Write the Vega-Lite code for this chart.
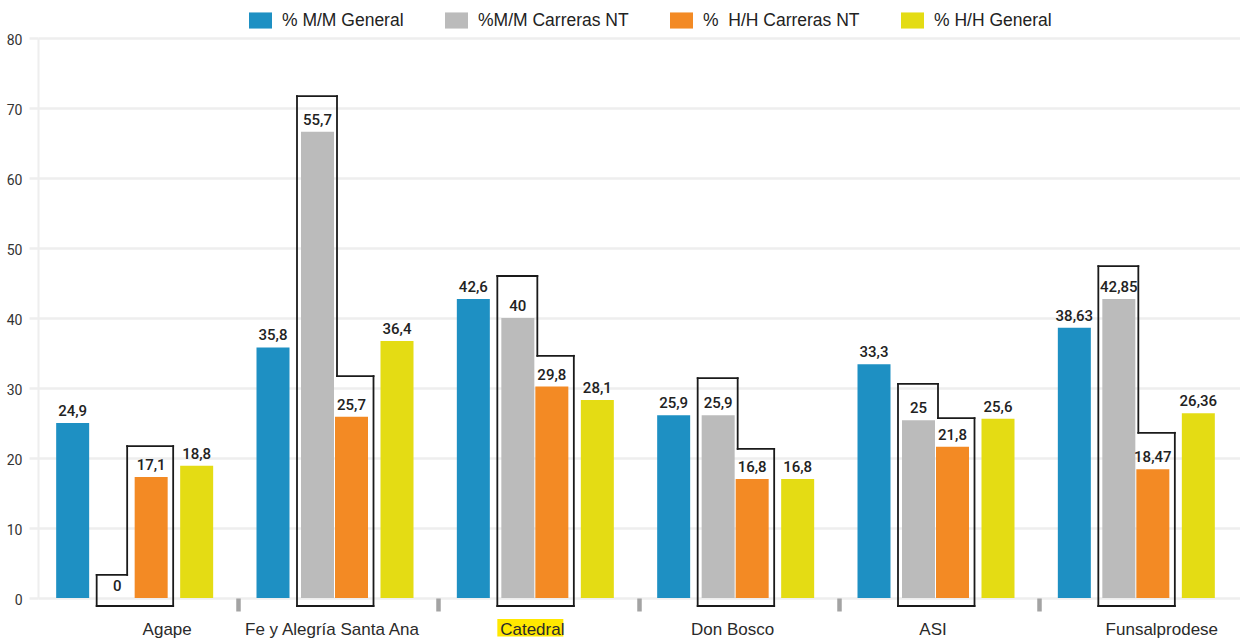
{
  "$schema": "https://vega.github.io/schema/vega-lite/v6.json",
  "width": 1202,
  "height": 560,
  "autosize": {"type": "none"},
  "padding": {"left": 38, "top": 38, "right": 0, "bottom": 44},
  "background": "white",
  "config": {"view": {"stroke": null}, "font": "Liberation Sans"},
  "datasets": {
    "bars": [
      {"school": "Agape", "serie": "% M/M General", "value": 25.0, "label": "24,9"},
      {"school": "Agape", "serie": "%M/M Carreras NT", "value": 0, "label": "0"},
      {"school": "Agape", "serie": "%\u00a0 H/H Carreras NT", "value": 17.3, "label": "17,1"},
      {"school": "Agape", "serie": "% H/H General", "value": 18.9, "label": "18,8"},
      {"school": "Fe y Alegría Santa Ana", "serie": "% M/M General", "value": 35.8, "label": "35,8"},
      {"school": "Fe y Alegría Santa Ana", "serie": "%M/M Carreras NT", "value": 66.6, "label": "55,7"},
      {"school": "Fe y Alegría Santa Ana", "serie": "%\u00a0 H/H Carreras NT", "value": 25.9, "label": "25,7"},
      {"school": "Fe y Alegría Santa Ana", "serie": "% H/H General", "value": 36.7, "label": "36,4"},
      {"school": "Catedral", "serie": "% M/M General", "value": 42.7, "label": "42,6"},
      {"school": "Catedral", "serie": "%M/M Carreras NT", "value": 40.0, "label": "40"},
      {"school": "Catedral", "serie": "%\u00a0 H/H Carreras NT", "value": 30.2, "label": "29,8"},
      {"school": "Catedral", "serie": "% H/H General", "value": 28.3, "label": "28,1"},
      {"school": "Don Bosco", "serie": "% M/M General", "value": 26.1, "label": "25,9"},
      {"school": "Don Bosco", "serie": "%M/M Carreras NT", "value": 26.1, "label": "25,9"},
      {"school": "Don Bosco", "serie": "%\u00a0 H/H Carreras NT", "value": 17.0, "label": "16,8"},
      {"school": "Don Bosco", "serie": "% H/H General", "value": 17.0, "label": "16,8"},
      {"school": "ASI", "serie": "% M/M General", "value": 33.4, "label": "33,3"},
      {"school": "ASI", "serie": "%M/M Carreras NT", "value": 25.4, "label": "25"},
      {"school": "ASI", "serie": "%\u00a0 H/H Carreras NT", "value": 21.6, "label": "21,8"},
      {"school": "ASI", "serie": "% H/H General", "value": 25.6, "label": "25,6"},
      {"school": "Funsalprodese", "serie": "% M/M General", "value": 38.6, "label": "38,63"},
      {"school": "Funsalprodese", "serie": "%M/M Carreras NT", "value": 42.7, "label": "42,85"},
      {"school": "Funsalprodese", "serie": "%\u00a0 H/H Carreras NT", "value": 18.4, "label": "18,47"},
      {"school": "Funsalprodese", "serie": "% H/H General", "value": 26.4, "label": "26,36"}
    ],
    "boxes": [
      {"school": "Agape", "a": 3.3, "b": 21.7},
      {"school": "Fe y Alegría Santa Ana", "a": 71.7, "b": 31.7},
      {"school": "Catedral", "a": 46.0, "b": 34.6},
      {"school": "Don Bosco", "a": 31.4, "b": 21.3},
      {"school": "ASI", "a": 30.6, "b": 25.7},
      {"school": "Funsalprodese", "a": 47.4, "b": 23.6}
    ]
  },
  "data": {"name": "bars"},
  "encoding": {
    "x": {
      "field": "school",
      "type": "nominal",
      "title": null,
      "sort": ["Agape", "Fe y Alegría Santa Ana", "Catedral", "Don Bosco", "ASI", "Funsalprodese"],
      "scale": {"paddingInner": 0, "paddingOuter": 0},
      "axis": {
        "bandPosition": 0,
        "domain": false,
        "grid": false,
        "ticks": true,
        "labels": false,
        "tickSize": 13,
        "tickWidth": 4.5,
        "tickColor": {"condition": {"test": "datum.value === 'Agape'", "value": "transparent"}, "value": "#a3a3a3"},
        "zindex": 1
      }
    },
    "y": {
      "field": "value",
      "type": "quantitative",
      "title": null,
      "scale": {"domain": [0, 80], "nice": false, "zero": false},
      "axis": {
        "values": [0, 10, 20, 30, 40, 50, 60, 70, 80],
        "domain": true,
        "domainColor": "#eeeeee",
        "domainWidth": 2,
        "ticks": true,
        "tickColor": "#eeeeee",
        "tickSize": 9,
        "tickWidth": 2.5,
        "grid": true,
        "gridColor": "#eeeeee",
        "gridWidth": 2.5,
        "labelFont": "Roboto",
        "labelFontSize": 14,
        "labelColor": "#333333",
        "labelPadding": 7,
        "labelOffset": 2
      }
    }
  },
  "layer": [
    {
      "transform": [{"filter": "datum.school === 'Catedral' && datum.serie === '% M/M General'"}],
      "mark": {"type": "bar", "color": "#ffe800", "width": 66, "xOffset": -8.5},
      "encoding": {
        "y": {"datum": -3.0, "type": "quantitative", "title": null},
        "y2": {"datum": -5.5}
      }
    },
    {
      "transform": [{"filter": "datum.serie === '% M/M General'"}],
      "mark": {"type": "bar", "color": "#1a1a1a", "width": 78.3, "xOffset": -3.25},
      "encoding": {
        "y": {"datum": -1.01, "type": "quantitative", "title": null},
        "y2": {"datum": -1.27}
      }
    },
    {
      "transform": [{"filter": "datum.serie === '% M/M General'"}],
      "encoding": {
        "y": {"datum": -5.3, "type": "quantitative", "title": null},
        "text": {"field": "school", "type": "nominal"}
      },
      "layer": [
        {"transform": [{"filter": "datum.school === 'Agape'"}], "mark": {"type": "text", "xOffset": 29, "baseline": "alphabetic", "font": "Liberation Sans", "fontSize": 17, "color": "#2a2a2a"}},
        {"transform": [{"filter": "datum.school === 'Funsalprodese'"}], "mark": {"type": "text", "xOffset": 22, "baseline": "alphabetic", "font": "Liberation Sans", "fontSize": 17, "color": "#2a2a2a"}},
        {"transform": [{"filter": "datum.school !== 'Agape' && datum.school !== 'Funsalprodese'"}], "mark": {"type": "text", "xOffset": -6.5, "baseline": "alphabetic", "font": "Liberation Sans", "fontSize": 17, "color": "#2a2a2a"}}
      ]
    },
    {
      "data": {"name": "boxes"},
      "layer": [
        {
          "mark": {"type": "rule", "color": "#1a1a1a", "strokeWidth": 1.8, "strokeCap": "square", "xOffset": -41.5},
          "encoding": {"y": {"field": "a", "type": "quantitative", "title": null}, "y2": {"datum": -1.14}}
        },
        {
          "mark": {"type": "rule", "color": "#1a1a1a", "strokeWidth": 1.8, "strokeCap": "square", "xOffset": 35},
          "encoding": {"y": {"field": "b", "type": "quantitative", "title": null}, "y2": {"datum": -1.14}}
        },
        {
          "transform": [{"filter": "datum.school !== 'Agape'"}],
          "layer": [
            {
              "mark": {"type": "rule", "color": "#1a1a1a", "strokeWidth": 1.8, "strokeCap": "square", "xOffset": -41.5, "x2Offset": -1.5},
              "encoding": {"x2": {"field": "school"}, "y": {"field": "a", "type": "quantitative", "title": null}}
            },
            {
              "mark": {"type": "rule", "color": "#1a1a1a", "strokeWidth": 1.8, "strokeCap": "square", "xOffset": -1.5},
              "encoding": {"y": {"field": "a", "type": "quantitative", "title": null}, "y2": {"field": "b"}}
            },
            {
              "mark": {"type": "rule", "color": "#1a1a1a", "strokeWidth": 1.8, "strokeCap": "square", "xOffset": -1.5, "x2Offset": 35},
              "encoding": {"x2": {"field": "school"}, "y": {"field": "b", "type": "quantitative", "title": null}}
            }
          ]
        },
        {
          "transform": [{"filter": "datum.school === 'Agape'"}],
          "layer": [
            {
              "mark": {"type": "rule", "color": "#1a1a1a", "strokeWidth": 1.8, "strokeCap": "square", "xOffset": -41.5, "x2Offset": -11},
              "encoding": {"x2": {"field": "school"}, "y": {"field": "a", "type": "quantitative", "title": null}}
            },
            {
              "mark": {"type": "rule", "color": "#1a1a1a", "strokeWidth": 1.8, "strokeCap": "square", "xOffset": -11},
              "encoding": {"y": {"field": "a", "type": "quantitative", "title": null}, "y2": {"field": "b"}}
            },
            {
              "mark": {"type": "rule", "color": "#1a1a1a", "strokeWidth": 1.8, "strokeCap": "square", "xOffset": -11, "x2Offset": 35},
              "encoding": {"x2": {"field": "school"}, "y": {"field": "b", "type": "quantitative", "title": null}}
            }
          ]
        }
      ]
    },
    {
      "encoding": {
        "color": {
          "field": "serie",
          "type": "nominal",
          "scale": {
            "domain": ["% M/M General", "%M/M Carreras NT", "%\u00a0 H/H Carreras NT", "% H/H General"],
            "range": ["#1e90c3", "#bbbbbb", "#f38a24", "#e4dc14"]
          },
          "legend": {
            "orient": "none",
            "legendX": 211,
            "legendY": -29,
            "direction": "horizontal",
            "title": null,
            "symbolType": "M-1,-0.7H1V0.7H-1Z",
            "symbolSize": 529,
            "symbolStrokeWidth": 0,
            "symbolOpacity": 1,
            "labelFont": "Liberation Sans",
            "labelFontSize": 17.5,
            "labelColor": "#222222",
            "labelOffset": 10,
            "labelLimit": 400,
            "columnPadding": 41,
            "padding": 0
          }
        }
      },
      "layer": [
        {"transform": [{"filter": {"field": "serie", "equal": "% M/M General"}}], "mark": {"type": "bar", "width": 33, "xOffset": -65.5}},
        {"transform": [{"filter": {"field": "serie", "equal": "%M/M Carreras NT"}}], "mark": {"type": "bar", "width": 33, "xOffset": -21}},
        {"transform": [{"filter": {"field": "serie", "equal": "%\u00a0 H/H Carreras NT"}}], "mark": {"type": "bar", "width": 33, "xOffset": 13}},
        {"transform": [{"filter": {"field": "serie", "equal": "% H/H General"}}], "mark": {"type": "bar", "width": 33, "xOffset": 58.5}}
      ]
    },
    {
      "encoding": {"text": {"field": "label", "type": "nominal"}},
      "layer": [
        {"transform": [{"filter": {"field": "serie", "equal": "% M/M General"}}], "mark": {"type": "text", "xOffset": -65.5, "dy": -7, "baseline": "alphabetic", "font": "Roboto", "fontWeight": 500, "fontSize": 15, "color": "#222222"}},
        {"transform": [{"filter": {"field": "serie", "equal": "%M/M Carreras NT"}}], "mark": {"type": "text", "xOffset": -21, "dy": -7, "baseline": "alphabetic", "font": "Roboto", "fontWeight": 500, "fontSize": 15, "color": "#222222"}},
        {"transform": [{"filter": {"field": "serie", "equal": "%\u00a0 H/H Carreras NT"}}], "mark": {"type": "text", "xOffset": 13, "dy": -7, "baseline": "alphabetic", "font": "Roboto", "fontWeight": 500, "fontSize": 15, "color": "#222222"}},
        {"transform": [{"filter": {"field": "serie", "equal": "% H/H General"}}], "mark": {"type": "text", "xOffset": 58.5, "dy": -7, "baseline": "alphabetic", "font": "Roboto", "fontWeight": 500, "fontSize": 15, "color": "#222222"}}
      ]
    }
  ]
}
